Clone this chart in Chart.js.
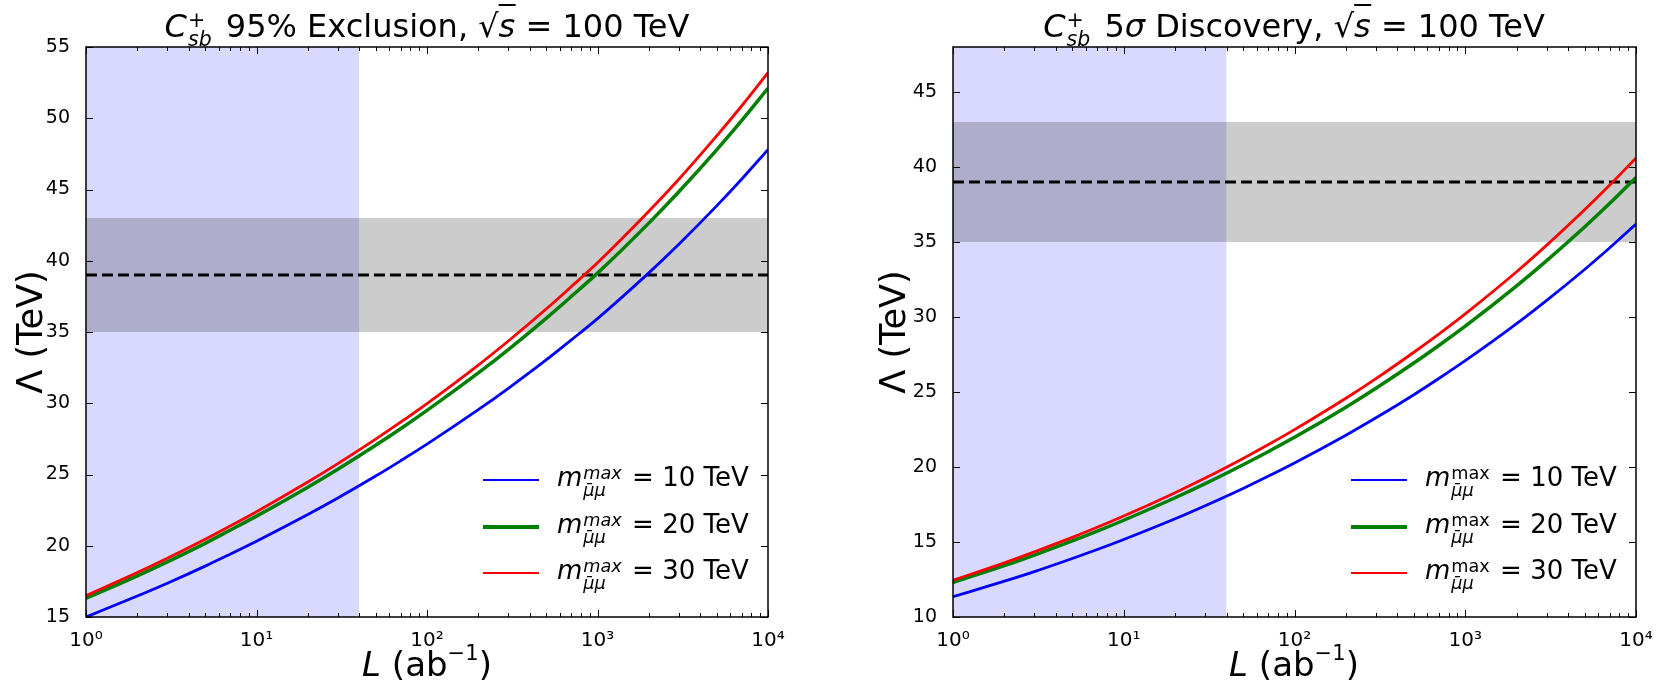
<!DOCTYPE html>
<html>
<head>
<meta charset="utf-8">
<script src="https://cdn.jsdelivr.net/npm/chart.js@4.4.1/dist/chart.umd.min.js"></script>
<style>
  html, body { margin: 0; padding: 0; background: #fff; }
  body { width: 1663px; height: 687px; position: relative; overflow: hidden; font-family: 'DejaVu Sans', sans-serif; color: #000; }
  .panel { position: absolute; top: 0; height: 687px; }
  .title { position: absolute; top: 6px; font-size: 32px; line-height: 40px; white-space: nowrap; transform: translateX(-50%); }
  .xlab { position: absolute; top: 644px; font-size: 34px; line-height: 40px; white-space: nowrap; transform: translateX(-50%); }
  .xlab sup { font-size: 0.62em; line-height: 0; vertical-align: 0.75em; }
  .ss { display: inline-block; vertical-align: -0.45em; font-size: 0.64em; line-height: 0.92; margin: 0 4px 0 1px; text-align: left; }
  .ss > span { display: block; }
  .ol { border-top: 2px solid #000; padding-top: 1px; }
  .leg { position: absolute; font-size: 26px; white-space: nowrap; }
  .leg .ln { position: absolute; width: 56px; }
  .leg .tx { position: absolute; line-height: 30px; }
  .leg .ss { vertical-align: -0.55em; font-size: 0.68em; line-height: 0.95; margin: 0 2px 0 1px; }
</style>
</head>
<body>
<div class="panel" style="left:0; width:830px;"><canvas id="exclChart"></canvas></div>
<div class="panel" style="left:831px; width:832px;"><canvas id="discChart"></canvas></div>

<div class="title" style="left:427px;"><i>C</i><span class="ss"><span>+</span><span><i>sb</i></span></span> 95% Exclusion, √<span class="ol"><i>s</i></span> = 100 TeV</div>
<div class="title" style="left:1294px;"><i>C</i><span class="ss"><span>+</span><span><i>sb</i></span></span> 5<i>σ</i> Discovery, √<span class="ol"><i>s</i></span> = 100 TeV</div>

<div class="xlab" style="left:427px;"><i>L</i> (ab<sup>−1</sup>)</div>
<div class="xlab" style="left:1294px;"><i>L</i> (ab<sup>−1</sup>)</div>

<div class="leg" id="legLeft"></div>
<div class="leg" id="legRight"></div>

<script>
// integrated luminosity (ab^-1)
const lumi = [1, 2, 3, 5, 7, 10, 20, 30, 50, 70, 100, 200, 300, 500, 700, 1000, 2000, 3000, 5000, 7000, 10000];

// 95% exclusion reach, Lambda (TeV)
const excl10 = [15.00, 16.47, 17.37, 18.57, 19.41, 20.32, 22.19, 23.35, 24.89, 25.96, 27.13, 29.55, 31.05, 33.04, 34.43, 35.94, 39.15, 41.16, 43.85, 45.72, 47.80];
const excl20 = [16.30, 17.89, 18.87, 20.17, 21.09, 22.08, 24.11, 25.37, 27.05, 28.21, 29.50, 32.13, 33.77, 35.96, 37.48, 39.13, 42.64, 44.84, 47.78, 49.83, 52.10];
const excl30 = [16.50, 18.12, 19.12, 20.45, 21.38, 22.39, 24.47, 25.76, 27.48, 28.67, 29.98, 32.68, 34.37, 36.61, 38.17, 39.86, 43.47, 45.72, 48.76, 50.86, 53.20];

// 5 sigma discovery reach, Lambda (TeV)
const disc10 = [11.35, 12.39, 13.03, 13.90, 14.50, 15.17, 16.55, 17.42, 18.57, 19.38, 20.27, 22.12, 23.28, 24.82, 25.90, 27.09, 29.56, 31.11, 33.17, 34.60, 36.20];
const disc20 = [12.30, 13.42, 14.13, 15.07, 15.72, 16.45, 17.95, 18.89, 20.15, 21.02, 21.98, 23.99, 25.25, 26.93, 28.10, 29.39, 32.08, 33.76, 36.00, 37.56, 39.30];
const disc30 = [12.45, 13.61, 14.34, 15.31, 15.98, 16.73, 18.29, 19.26, 20.57, 21.48, 22.49, 24.58, 25.89, 27.65, 28.86, 30.21, 33.02, 34.79, 37.15, 38.78, 40.60];

const massCuts = [10, 20, 30];          // m^max cut (TeV)
const bandLow = 35, bandHigh = 43;      // grey band (TeV)
const bandCentral = 39;                 // dashed line (TeV)
const shadeMaxL = 40;                   // blue shaded luminosity range upper edge

const xDecades = [1, 10, 100, 1000, 10000];
const xTickLabels = ['10⁰', '10¹', '10²', '10³', '10⁴'];
const yTicksExcl = [15, 20, 25, 30, 35, 40, 45, 50, 55];
const yTicksDisc = [10, 15, 20, 25, 30, 35, 40, 45];

const curveColors = ['#0000ff', '#008000', '#ff0000'];
const curveWidths = [2.8, 3.5, 2.8];

Chart.defaults.font.family = "'DejaVu Sans', sans-serif";
Chart.defaults.color = '#000';

// minor + major tick positions for the log axis
const xTickValues = [];
for (let k = 0; k < 4; k++) {
    for (let m = 1; m < 10; m++) xTickValues.push(m * Math.pow(10, k));
}
xTickValues.push(10000);

const frameTicks = {
    id: 'frameTicks',
    afterDatasetsDraw(chart) {
        const { ctx, chartArea: a, scales: { x, y } } = chart;
        ctx.save();
        ctx.strokeStyle = '#000';
        ctx.lineWidth = 1;
        ctx.beginPath();
        x.ticks.forEach(t => {
            const lg = Math.log10(t.value);
            const len = Math.abs(lg - Math.round(lg)) < 1e-9 ? 7 : 4;
            const px = Math.round(x.getPixelForValue(t.value)) + 0.5;
            ctx.moveTo(px, a.bottom); ctx.lineTo(px, a.bottom - len);
            ctx.moveTo(px, a.top); ctx.lineTo(px, a.top + len);
        });
        y.ticks.forEach(t => {
            const py = Math.round(y.getPixelForValue(t.value)) + 0.5;
            ctx.moveTo(a.left, py); ctx.lineTo(a.left + 7, py);
            ctx.moveTo(a.right, py); ctx.lineTo(a.right - 7, py);
        });
        ctx.stroke();
        ctx.lineWidth = 1.5;
        ctx.strokeRect(a.left, a.top, a.right - a.left, a.bottom - a.top);
        ctx.restore();
    }
};

function makePanel(canvasId, series, yMin, yMax, yTicks, box) {
    const datasets = [];
    series.forEach((vals, i) => {
        datasets.push({
            label: 'mmax = ' + massCuts[i] + ' TeV',
            data: lumi.map((L, j) => ({ x: L, y: vals[j] })),
            borderColor: curveColors[i],
            borderWidth: curveWidths[i],
            pointRadius: 0,
            cubicInterpolationMode: 'monotone',
            fill: false,
            order: 2 - i
        });
    });
    datasets.push({
        label: 'central',
        data: [{ x: 1, y: bandCentral }, { x: 10000, y: bandCentral }],
        borderColor: '#000',
        borderWidth: 3,
        borderDash: [11, 5],
        pointRadius: 0,
        fill: false,
        order: 3
    });
    datasets.push({
        label: 'band high',
        data: [{ x: 1, y: bandHigh }, { x: 10000, y: bandHigh }],
        borderWidth: 0,
        pointRadius: 0,
        backgroundColor: 'rgba(0,0,0,0.2)',
        fill: '+1',
        order: 4
    });
    datasets.push({
        label: 'band low',
        data: [{ x: 1, y: bandLow }, { x: 10000, y: bandLow }],
        borderWidth: 0,
        pointRadius: 0,
        fill: false,
        order: 5
    });
    datasets.push({
        label: 'shade',
        data: [{ x: 1, y: yMax }, { x: shadeMaxL, y: yMax }],
        borderWidth: 0,
        pointRadius: 0,
        backgroundColor: 'rgba(0,0,255,0.15)',
        fill: 'start',
        order: 6
    });

    const ctx = document.getElementById(canvasId).getContext('2d');
    return new Chart(ctx, {
        type: 'line',
        data: { datasets: datasets },
        options: {
            responsive: true,
            maintainAspectRatio: false,
            animation: false,
            layout: { padding: { left: box.padLeft, top: 47, right: box.padRight, bottom: 0 } },
            plugins: { legend: { display: false }, tooltip: { enabled: false } },
            scales: {
                x: {
                    type: 'logarithmic',
                    min: 1,
                    max: 10000,
                    grid: { display: false },
                    border: { display: false },
                    afterBuildTicks: s => { s.ticks = xTickValues.map(v => ({ value: v })); },
                    afterFit: s => { s.height = 70; },
                    ticks: {
                        autoSkip: false,
                        maxRotation: 0,
                        padding: 4,
                        font: { size: 20 },
                        callback: v => {
                            const i = xDecades.indexOf(v);
                            return i >= 0 ? xTickLabels[i] : '';
                        }
                    }
                },
                y: {
                    type: 'linear',
                    min: yMin,
                    max: yMax,
                    grid: { display: false },
                    border: { display: false },
                    afterBuildTicks: s => { s.ticks = yTicks.map(v => ({ value: v })); },
                    afterFit: s => { s.width = box.yWidth; },
                    ticks: { padding: 8, font: { size: 19 } },
                    title: {
                        display: true,
                        text: 'Λ (TeV)',
                        font: { size: 35 },
                        padding: { top: box.titlePad, bottom: 0 }
                    }
                }
            }
        },
        plugins: [frameTicks]
    });
}

makePanel('exclChart', [excl10, excl20, excl30], 15, 55, yTicksExcl, { padLeft: 0, yWidth: 86, padRight: 62, titlePad: 12 });
makePanel('discChart', [disc10, disc20, disc30], 10, 48, yTicksDisc, { padLeft: 31, yWidth: 91, padRight: 27, titlePad: 13 });

// legends (mathtext-style labels)
function buildLegend(id, lineX, textX, upright) {
    const el = document.getElementById(id);
    const rowsY = [480, 527, 573];
    massCuts.forEach((m, i) => {
        const ln = document.createElement('div');
        ln.className = 'ln';
        ln.style.left = lineX + 'px';
        ln.style.top = (rowsY[i] - curveWidths[i] / 2) + 'px';
        ln.style.height = curveWidths[i] + 'px';
        ln.style.background = curveColors[i];
        el.appendChild(ln);
        const tx = document.createElement('div');
        tx.className = 'tx';
        tx.style.left = textX + 'px';
        tx.style.top = (rowsY[i] - 18) + 'px';
        const sup = upright ? 'max' : '<i>max</i>';
        tx.innerHTML = '<i>m</i><span class="ss"><span>' + sup + '</span><span><i>μ̄μ</i></span></span> = ' + m + ' TeV';
        el.appendChild(tx);
    });
}
buildLegend('legLeft', 483, 557, false);
buildLegend('legRight', 1351, 1425, true);
</script>
</body>
</html>
